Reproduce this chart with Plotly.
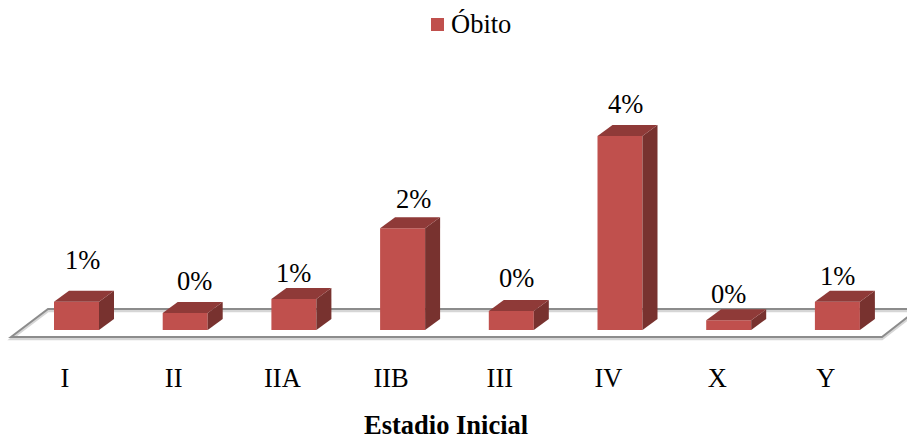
"""Faux-3D column chart: Obito by Estadio Inicial."""

import plotly.graph_objects as go

categories = ["I", "II", "IIA", "IIB", "III", "IV", "X", "Y"]
obito_pct = [0.58, 0.35, 0.64, 2.10, 0.39, 4.00, 0.20, 0.58]
labels = ["1%", "0%", "1%", "2%", "0%", "4%", "0%", "1%"]

FONT = "Liberation Serif"
FONT_SIZE = 26.5
FRONT, TOP, SIDE = "#c0504d", "#8f3a38", "#78322f"

# pixels per unit, used to convert the 3D extrusion into data units
PX_X = 108.7
PX_Y = 48.5
WIDTH, HEIGHT = 907, 439
HEIGHT_PX = 345  # bottom of the plot area
ZERO_PX = 330

bar_w = 45 / PX_X
bar_off = 11.5 / PX_X
depth_x = 15 / PX_X
depth_y = 11 / PX_Y

label_dx = [6, 9, 0, 11, 5, 5, 0, 0]
label_dy = [31, 21, 15, 18, 22, 21, 15, 15]

xs = [i + bar_off for i in range(len(categories))]

fig = go.Figure()
fig.add_trace(go.Bar(x=xs, y=obito_pct, width=bar_w, name="Óbito", showlegend=False,
                     marker=dict(color=FRONT, line_width=0)))

# side and top faces of each column
for x, v in zip(xs, obito_pct):
    l, r = x - bar_w / 2, x + bar_w / 2
    fig.add_trace(go.Scatter(
        x=[r, r + depth_x, r + depth_x, r, r], y=[0, depth_y, v + depth_y, v, 0],
        mode="lines", fill="toself", fillcolor=SIDE, line=dict(width=0),
        showlegend=False, hoverinfo="skip"))
    fig.add_trace(go.Scatter(
        x=[l, r, r + depth_x, l + depth_x, l], y=[v, v, v + depth_y, v + depth_y, v],
        mode="lines", fill="toself", fillcolor=TOP, line=dict(width=0),
        showlegend=False, hoverinfo="skip"))

for x, v, t, dx, dy in zip(xs, obito_pct, labels, label_dx, label_dy):
    fig.add_annotation(x=x + depth_x, y=v + depth_y, text=t, showarrow=False,
                       xshift=dx - 15, yshift=dy,
                       font=dict(family=FONT, size=FONT_SIZE, color="#000000"))


def floor_path(shift):
    # floor plane of the chart, corners in axis units
    y_front = (ZERO_PX - 337 - shift) / PX_Y
    y_back = (ZERO_PX - 309 - shift) / PX_Y
    x_fl, x_fr = (11 - 65) / PX_X, (882 - 65) / PX_X
    x_bl, x_br = (48 - 65) / PX_X, (918 - 65) / PX_X
    return f"M {x_fl},{y_front} L {x_bl},{y_back} L {x_br},{y_back} L {x_fr},{y_front} Z"


fig.add_shape(type="path", path=floor_path(2), layer="below", line=dict(color="#d6d6d6", width=2.5))
fig.add_shape(type="path", path=floor_path(0), layer="below", line=dict(color="#8c8c8c", width=2))

# legend entry, swatch sits closer to the text than plotly's own legend allows
fig.add_shape(type="rect", xref="paper", yref="paper", x0=431 / WIDTH, x1=444 / WIDTH,
              y0=(HEIGHT_PX - 31) / HEIGHT_PX, y1=(HEIGHT_PX - 18) / HEIGHT_PX,
              fillcolor=FRONT, line_width=0)
fig.add_annotation(x=449 / WIDTH, y=(HEIGHT_PX - 24) / HEIGHT_PX, xref="paper", yref="paper",
                   xanchor="left", yanchor="middle", text="Óbito", showarrow=False,
                   font=dict(family=FONT, size=FONT_SIZE, color="#000000"))

# y counts from the bottom of the plot area, so the title sits below zero
fig.add_annotation(x=445.5 / WIDTH, y=-(425 - HEIGHT_PX) / HEIGHT_PX, xref="paper", yref="paper",
                   yanchor="middle", text="<b>Estadio Inicial</b>", showarrow=False,
                   font=dict(family=FONT, size=FONT_SIZE, color="#000000"))

fig.update_layout(
    width=WIDTH, height=HEIGHT,
    margin=dict(l=0, r=0, t=0, b=HEIGHT - HEIGHT_PX),
    paper_bgcolor="white", plot_bgcolor="white",
    font=dict(family=FONT, size=FONT_SIZE, color="#000000"),
    showlegend=False,
    xaxis=dict(range=[-65 / PX_X, (WIDTH - 65) / PX_X], tickmode="array",
               tickvals=list(range(len(categories))), ticktext=categories,
               showgrid=False, zeroline=False, showline=False,
               ticks="outside", ticklen=9, tickcolor="rgba(0,0,0,0)"),
    yaxis=dict(range=[(ZERO_PX - HEIGHT_PX) / PX_Y, ZERO_PX / PX_Y], visible=False),
)

# the page's default body margin would push the figure 8px off
fig.write_html("out.html", config=dict(displayModeBar=False),
               post_script="document.body.style.margin='0';")
